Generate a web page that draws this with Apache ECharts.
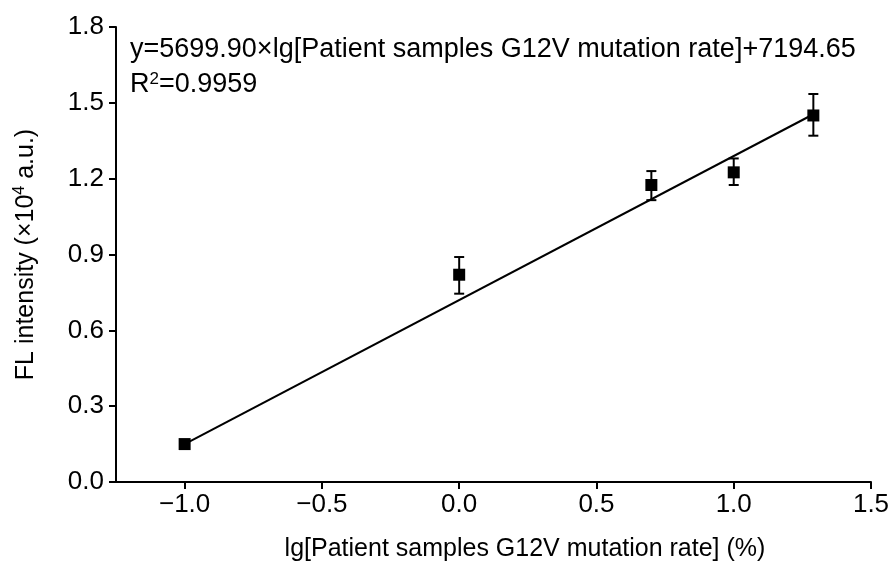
<!DOCTYPE html>
<html>
<head>
<meta charset="utf-8">
<script src="https://cdn.jsdelivr.net/npm/echarts@6/dist/echarts.min.js"></script>
<style>
  html, body { margin: 0; padding: 0; background: #fff; }
  #main { width: 895px; height: 565px; }
</style>
</head>
<body>
<div id="main"></div>
<script>
// data
var xVals = [-1.0, 0.0, 0.7, 1.0, 1.29];
var yVals = [0.15, 0.82, 1.175, 1.225, 1.45];
var yLow = [0.14, 0.745, 1.115, 1.175, 1.37];
var yHigh = [0.16, 0.89, 1.23, 1.28, 1.535];
var fitLine = [[-1.0, 0.1495], [1.29, 1.4548]];
var xTicks = [-1.0, -0.5, 0.0, 0.5, 1.0, 1.5];
var eqText = 'y=5699.90×lg[Patient samples G12V mutation rate]+7194.65';
var xTitle = 'lg[Patient samples G12V mutation rate] (%)';

var points = xVals.map(function (x, i) { return [x, yVals[i]]; });
var bars = xVals.map(function (x, i) { return [x, yLow[i], yHigh[i]]; });

var narrow = '"Liberation Sans Narrow", "Arial Narrow", "Liberation Sans", Arial';
var sans = '"Liberation Sans", Arial';

var chart = echarts.init(document.getElementById('main'));
var option = {
    animation: false,
    grid: {
        left: 116,
        right: 24,
        top: 27,
        bottom: 83
    },
    xAxis: {
        type: 'value',
        min: -1.25,
        max: 1.5,
        splitLine: { show: false },
        axisLine: { onZero: false, lineStyle: { color: '#000', width: 2 } },
        axisTick: { show: true, length: 7, lineStyle: { color: '#000', width: 2 }, customValues: xTicks },
        axisLabel: {
            color: '#000',
            fontSize: 26,
            fontFamily: narrow,
            margin: 10,
            customValues: xTicks,
            formatter: function (v) { return v.toFixed(1).replace('-', '\u2212'); }
        }
    },
    yAxis: {
        type: 'value',
        min: 0,
        max: 1.8,
        interval: 0.3,
        splitLine: { show: false },
        axisLine: { show: true, onZero: false, lineStyle: { color: '#000', width: 2 } },
        axisTick: { show: true, length: 7, lineStyle: { color: '#000', width: 2 } },
        axisLabel: {
            color: '#000',
            fontSize: 26,
            fontFamily: sans,
            margin: 12,
            formatter: function (v) { return v.toFixed(1); }
        },
        name: '{a|FL intensity (×10}{s|4}{a| a.u.)}',
        nameLocation: 'middle',
        nameGap: 76,
        nameTextStyle: {
            rich: {
                a: { color: '#000', fontSize: 25, fontFamily: sans },
                s: { color: '#000', fontSize: 16, fontFamily: sans, verticalAlign: 'top', padding: [0, 0, 12, 0] }
            }
        }
    },
    graphic: [{
        type: 'text',
        left: 130,
        top: 36,
        style: {
            text: eqText,
            fill: '#000',
            font: '27px "Liberation Sans", Arial'
        }
    }, {
        type: 'text',
        left: 130,
        top: 71,
        style: {
            text: '{a|R}{s|2}{a|=0.9959}',
            rich: {
                a: { fill: '#000', fontSize: 27, fontFamily: sans },
                s: { fill: '#000', fontSize: 17, fontFamily: sans, verticalAlign: 'top', padding: [0, 0, 10, 0] }
            }
        }
    }, {
        type: 'text',
        x: 525,
        y: 549,
        style: {
            text: xTitle,
            fill: '#000',
            font: '25px ' + narrow,
            align: 'center',
            verticalAlign: 'middle'
        }
    }],
    series: [{
        type: 'line',
        data: fitLine,
        symbol: 'none',
        lineStyle: { color: '#000', width: 2 },
        z: 2
    }, {
        type: 'custom',
        data: bars,
        renderItem: function (params, api) {
            var x = api.value(0);
            var lo = api.coord([x, api.value(1)]);
            var hi = api.coord([x, api.value(2)]);
            var hw = 5;
            var st = { stroke: '#000', lineWidth: 2 };
            return {
                type: 'group',
                children: [
                    { type: 'line', shape: { x1: lo[0], y1: lo[1], x2: hi[0], y2: hi[1] }, style: st },
                    { type: 'line', shape: { x1: lo[0] - hw, y1: lo[1], x2: lo[0] + hw, y2: lo[1] }, style: st },
                    { type: 'line', shape: { x1: hi[0] - hw, y1: hi[1], x2: hi[0] + hw, y2: hi[1] }, style: st }
                ]
            };
        },
        z: 3
    }, {
        type: 'scatter',
        data: points,
        symbol: 'rect',
        symbolSize: 12,
        itemStyle: { color: '#000', opacity: 1 },
        z: 4
    }]
};
chart.setOption(option);
</script>
</body>
</html>
